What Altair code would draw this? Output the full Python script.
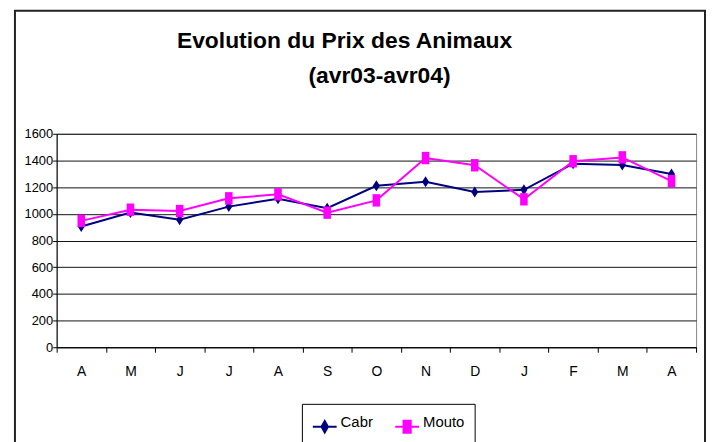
import altair as alt
import pandas as pd

# ---- data ----
mois = ["avr03", "mai03", "juin03", "juil03", "août03", "sept03", "oct03",
        "nov03", "déc03", "janv04", "févr04", "mars04", "avr04"]
cabris = [905, 1009, 955, 1054, 1113, 1042, 1210, 1240, 1163, 1180, 1376, 1366, 1299]
moutons = [947, 1031, 1021, 1116, 1146, 1009, 1101, 1418, 1364, 1109, 1394, 1423, 1245]
series = ["Cabris", "Moutons"]
colors = ["#000080", "#FF00FF"]
y_ticks = [0, 200, 400, 600, 800, 1000, 1200, 1400, 1600]
title_lines = ["Evolution du Prix des Animaux", "\u200b" + "\u00a0" * 11 + "(avr03-avr04)"]
ZW = "\u200b"

df = pd.DataFrame({
    "mois": mois * 2,
    "ordre": list(range(len(mois))) * 2,
    "prix": cabris + moutons,
    "serie": [series[0]] * len(mois) + [series[1]] * len(mois),
})

FONT = "Liberation Sans"

# marker shapes (plot) and legend symbols (line + marker)
plot_shapes = ["M0,-0.9L0.58,0L0,0.9L-0.58,0Z",
               "M-0.62,-1.02H0.62V1.02H-0.62Z"]
legend_shapes = ["M-1,0H1M0,-0.48L0.27,0L0,0.48L-0.27,0Z",
                 "M-1,0H1M-0.3,-0.5H0.3V0.5H-0.3Z"]

x_enc = alt.X("mois:N", sort=mois, title=None,
              axis=alt.Axis(labelExpr="datum.value ? upper(substring(datum.value,0,1)) : ''",
                            tickBand="extent", labelAngle=0, labelFontSize=14,
                            labelPadding=12, tickSize=5, domainColor="black",
                            tickColor="black", labelColor="black", grid=False,
                            labelFont=FONT))
y_enc = alt.Y("prix:Q", title=None,
              scale=alt.Scale(domain=[0, 1600], nice=False),
              axis=alt.Axis(values=y_ticks, format="d", labelFontSize=13, labelPadding=0,
                            tickSize=4, domainColor="black", tickColor="black",
                            labelColor="black", gridColor="#111", gridOpacity=1,
                            labelFont=FONT))
color_scale = alt.Scale(domain=series, range=colors)

base = alt.Chart(df)

lines = base.mark_line(strokeWidth=2).encode(
    x=x_enc, y=y_enc,
    color=alt.Color("serie:N", scale=color_scale, legend=None),
    order="ordre:Q",
)

points = base.mark_point(filled=True, size=150, opacity=1).encode(
    x=x_enc, y=y_enc,
    color=alt.Color("serie:N", scale=color_scale, legend=None),
    shape=alt.Shape("serie:N", scale=alt.Scale(domain=series, range=plot_shapes), legend=None),
)

leg_props = dict(orient="none", legendX=247, legendY=272)
label_expr = ("datum.label == 'Cabris' ? ['Cabr','" + ZW + "','is'] : ['Mouto','" + ZW + "','ns']")
leg = base.transform_filter("false").mark_point(filled=True, size=576, strokeWidth=2, opacity=1).encode(
    x=x_enc, y=y_enc,
    color=alt.Color("serie:N", scale=color_scale, title=None,
                    legend=alt.Legend(direction="horizontal", strokeColor="black",
                                      padding=10, symbolSize=576, symbolStrokeWidth=2,
                                      labelFontSize=15, labelFont=FONT, labelColor="black",
                                      labelOffset=3, columnPadding=18, labelBaseline="alphabetic",
                                      labelExpr=label_expr,
                                      **leg_props)),
    stroke=alt.Stroke("serie:N", scale=color_scale, title=None, legend=alt.Legend(**leg_props)),
    shape=alt.Shape("serie:N", scale=alt.Scale(domain=series, range=legend_shapes), title=None,
                    legend=alt.Legend(**leg_props)),
)

frame_df = pd.DataFrame({"k": [0]})
frame = alt.Chart(frame_df).mark_rect(fill=None, stroke="#222", strokeWidth=2).encode(
    x=alt.value(-42), x2=alt.value(653), y=alt.value(-124), y2=alt.value(340)
)

chart = alt.layer(frame, lines, points, leg).resolve_scale(
    color="independent", shape="independent", stroke="independent"
).properties(
    width=644, height=215,
    padding={"left": 6, "top": 0, "right": 0, "bottom": 0},
    title=alt.TitleParams(text=title_lines, font=FONT, fontSize=23, fontWeight="bold",
                          color="black", anchor="middle", dx=-32, offset=-79, lineHeight=35),
).configure_view(stroke="#888", strokeWidth=1)

chart.save("out.html", embed_options={"renderer": "svg", "actions": False})
